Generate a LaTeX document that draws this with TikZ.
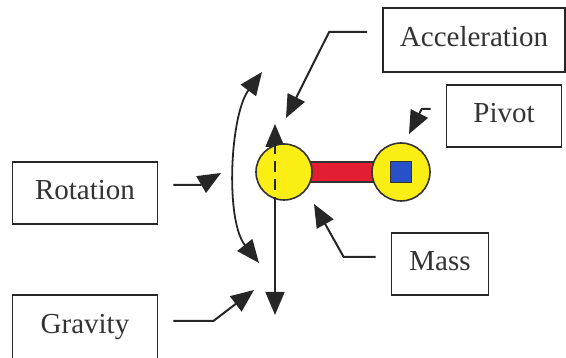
\documentclass[tikz,border=0pt]{standalone}
\usepackage{fontspec}
\setmainfont{Liberation Serif}
\usetikzlibrary{arrows.meta, backgrounds}

\definecolor{ballyellow}{RGB}{250,238,20}
\definecolor{barred}{RGB}{228,30,50}
\definecolor{axleblue}{RGB}{40,80,200}

\tikzset{
  label box/.style={draw=black!85, line width=1.7pt, fill=white, text=black!80,
    font=\fontsize{29}{33}\selectfont, minimum height=62pt, inner sep=0pt,
    text height=19pt, text depth=6pt},
  pointer/.style={draw=black!85, line width=2pt,
    -{Triangle[length=23pt,width=19pt]}, shorten <=15pt},
  ball/.style={circle, draw=black!80, line width=1.6pt, fill=ballyellow, inner sep=0pt}
}

\begin{document}
\begin{tikzpicture}[x=1pt, y=-1pt]
  \useasboundingbox (0,0) rectangle (566,358);

  % labels
  \node[label box, minimum width=182pt, minimum height=64pt] (accel) at (474,40) {Acceleration};
  \node[label box, minimum width=115pt] (pivot) at (504,116) {Pivot};
  \node[label box, minimum width=145pt] (rot) at (85,193) {Rotation};
  \node[label box, minimum width=97pt] (mass) at (440,264) {Mass};
  \node[label box, minimum width=145pt, minimum height=76pt, text depth=17pt] (grav) at (85,333) {Gravity};

  % pendulum
  \node[ball, minimum size=56pt] (bob) at (284,172) {};
  \node[ball, minimum size=58pt] (hinge) at (401,172) {};
  \node[draw=black!80, line width=1.4pt, fill=axleblue, minimum size=21pt, inner sep=0pt] (axle) at (hinge) {};
  \begin{scope}[on background layer]
    \draw[fill=barred, draw=black!80, line width=1.4pt] ([yshift=10pt]bob.center) rectangle ([yshift=-10pt]hinge.center);
  \end{scope}

  % tips
  \coordinate (uptip) at (275,124);
  \coordinate (downtip) at (275,315);
  \coordinate (rottop) at (262,72);
  \coordinate (rotbot) at (259,263);
  \coordinate (acctip) at (286,118);
  \coordinate (pivtip) at (409,134);
  \coordinate (rottip) at (221,173);
  \coordinate (gravtip) at (254,290);
  \coordinate (masstip) at (314,204);

  % motion
  \begin{scope}[on background layer]
    \draw[draw=black!85, line width=1.7pt, {Triangle[length=23pt,width=19pt]}-{Triangle[length=23pt,width=19pt]}] (uptip) -- (downtip);
  \end{scope}
  \draw[draw=black!85, line width=1.7pt, dash pattern=on 11pt off 7pt] (uptip |- bob.north) -- (uptip |- bob.south);
  \draw[draw=black!85, line width=1.8pt, {Triangle[length=23pt,width=19pt]}-{Triangle[length=23pt,width=19pt]}]
    (rottop) .. controls (230,115) and (225,220) .. (rotbot);

  % pointers
  \draw[pointer] ([yshift=8pt]accel.west) -- ++(-53,0) -- (acctip);
  \draw[pointer] ([yshift=7pt]pivot.west) -- ++(-24,0) -- (pivtip);
  \draw[pointer] ([yshift=8pt]rot.east) -- ++(42,0) -- (rottip);
  \draw[pointer] ([yshift=12pt]grav.east) -- ++(55,0) -- (gravtip);
  \draw[pointer] ([yshift=7pt]mass.west) -- ++(-47,0) -- (masstip);
\end{tikzpicture}
\end{document}
